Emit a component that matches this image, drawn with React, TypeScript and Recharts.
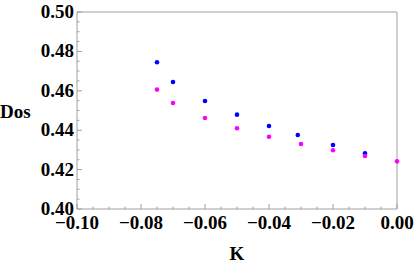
import { Label, ReferenceArea, Scatter, ScatterChart, XAxis, YAxis } from "recharts";

// K values and density-of-states readings for the two series
const blueK = [-0.075, -0.07, -0.06, -0.05, -0.04, -0.031, -0.02, -0.01];
const blueDos = [0.4745, 0.4645, 0.4548, 0.4479, 0.4421, 0.4376, 0.4325, 0.4283];

const magentaK = [-0.075, -0.07, -0.06, -0.05, -0.04, -0.03, -0.02, -0.01, 0.0];
const magentaDos = [0.4606, 0.4538, 0.4462, 0.441, 0.4367, 0.433, 0.4298, 0.4269, 0.4242];

// every 0.005 gets a tick, every fourth one is a labelled major tick
const xTicks = Array.from({ length: 21 }, (_, i) => -0.1 + i * 0.005);
const yTicks = Array.from({ length: 21 }, (_, i) => 0.4 + i * 0.005);

const blueData = blueK.map((k, i) => ({ k, dos: blueDos[i] }));
const magentaData = magentaK.map((k, i) => ({ k, dos: magentaDos[i] }));

const frame = "#a0a0a0";
const serif = "Liberation Serif";
const textStyle = {
    fontFamily: serif,
    fontWeight: "bold" as const,
    fontSize: 19,
    fill: "#000",
};
const lineStyle = { stroke: frame, strokeWidth: 1 };

const fmtX = (v: number) => {
    const s = Math.abs(v).toFixed(2);
    return v < -1e-9 ? "\u2212" + s : s;
};
const isMajor = (i: number) => i % 4 === 0;
const len = (i: number) => (isMajor(i) ? 5 : 2.5);

const dot = (color: string) => (props: any) => (
    <circle cx={props.cx} cy={props.cy} r={2.3} style={{ fill: color }} />
);

// serif text with the font given both as attribute and style
const SerifText = ({ children, ...rest }: any) => (
    <text fontFamily={serif} fontWeight="bold" fontSize={19} fill="#000" style={textStyle} {...rest}>
        {children}
    </text>
);

// tick components: label (major only) plus an inward tick mark
const BottomTick = (p: any) => (
    <g>
        <line x1={p.x} y1={p.y} x2={p.x} y2={p.y - len(p.index)} style={lineStyle} />
        {isMajor(p.index) && (
            <SerifText x={p.x} y={p.y + 20} textAnchor="middle">
                {fmtX(p.payload.value)}
            </SerifText>
        )}
    </g>
);
const LeftTick = (p: any) => (
    <g>
        <line x1={p.x} y1={p.y} x2={p.x + len(p.index)} y2={p.y} style={lineStyle} />
        {isMajor(p.index) && (
            <SerifText x={p.x - 3} y={p.y + 6} textAnchor="end">
                {p.payload.value.toFixed(2)}
            </SerifText>
        )}
    </g>
);
const TopTick = (p: any) => (
    <line x1={p.x} y1={p.y} x2={p.x} y2={p.y + len(p.index)} style={lineStyle} />
);
const RightTick = (p: any) => (
    <line x1={p.x} y1={p.y} x2={p.x - len(p.index)} y2={p.y} style={lineStyle} />
);

const xDomain = [-0.1, 0];
const yDomain = [0.4, 0.5];

export default function App() {
    return (
        <div style={{ position: "absolute", left: 0, top: 0, fontFamily: serif, fontWeight: "bold" }}>
            <ScatterChart
                width={415}
                height={265}
                margin={{ top: 12, right: 18, bottom: 0, left: 0 }}
                style={{ fontFamily: serif }}
            >
                <XAxis
                    dataKey="k"
                    type="number"
                    domain={xDomain}
                    ticks={xTicks}
                    interval={0}
                    height={56}
                    axisLine={false}
                    tickLine={false}
                    tickSize={0}
                    tickMargin={0}
                    tick={<BottomTick />}
                >
                    <Label
                        content={(lp: any) => (
                            <SerifText
                                x={lp.viewBox.x + lp.viewBox.width / 2}
                                y={lp.viewBox.y + lp.viewBox.height - 5}
                                textAnchor="middle"
                            >
                                K
                            </SerifText>
                        )}
                    />
                </XAxis>
                <YAxis
                    dataKey="dos"
                    type="number"
                    domain={yDomain}
                    ticks={yTicks}
                    interval={0}
                    width={77}
                    axisLine={false}
                    tickLine={false}
                    tickSize={0}
                    tickMargin={0}
                    tick={<LeftTick />}
                >
                    <Label
                        content={(lp: any) => (
                            <SerifText
                                x={lp.viewBox.x}
                                y={lp.viewBox.y + lp.viewBox.height / 2 + 7}
                                textAnchor="start"
                            >
                                Dos
                            </SerifText>
                        )}
                    />
                </YAxis>
                <XAxis
                    xAxisId="top"
                    orientation="top"
                    type="number"
                    domain={xDomain}
                    ticks={xTicks}
                    interval={0}
                    height={0}
                    axisLine={false}
                    tickLine={false}
                    tickSize={0}
                    tickMargin={0}
                    tick={<TopTick />}
                />
                <YAxis
                    yAxisId="right"
                    orientation="right"
                    type="number"
                    domain={yDomain}
                    ticks={yTicks}
                    interval={0}
                    width={0}
                    axisLine={false}
                    tickLine={false}
                    tickSize={0}
                    tickMargin={0}
                    tick={<RightTick />}
                />

                <ReferenceArea
                    x1={-0.1}
                    x2={0}
                    y1={0.4}
                    y2={0.5}
                    fill="none"
                    stroke={frame}
                    fillOpacity={0}
                    style={{ stroke: frame, fill: "none" }}
                />

                <Scatter data={blueData} shape={dot("#0000ff")} isAnimationActive={false} />
                <Scatter data={magentaData} shape={dot("#ff00ff")} isAnimationActive={false} />
            </ScatterChart>
        </div>
    );
}
